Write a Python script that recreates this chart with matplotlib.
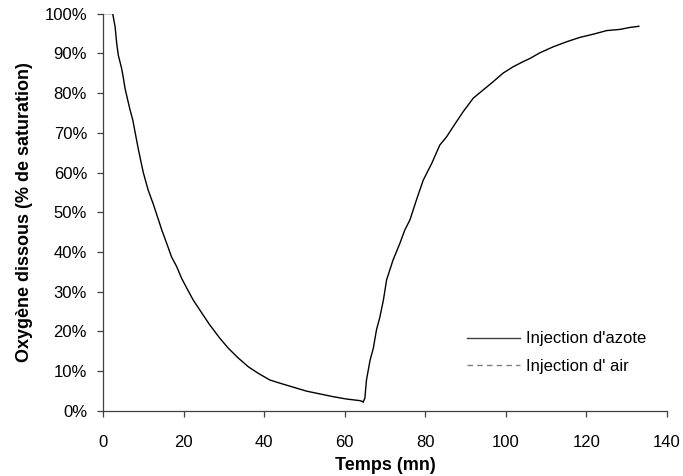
import matplotlib
matplotlib.use("Agg")
import matplotlib.pyplot as plt
from matplotlib.lines import Line2D
from matplotlib.ticker import PercentFormatter, MultipleLocator

plt.rcParams['font.family'] = ['Liberation Sans', 'DejaVu Sans']

# Injection d'azote : chute de l'oxygene dissous
t_azote = [0, 2.4, 3.0, 3.4, 3.8, 4.6, 5.0, 5.5, 6.7, 7.4, 7.9, 8.8, 10.0, 11.2,
           12.5, 13.7, 14.6, 15.8, 17.0, 18.3, 19.5, 20.8, 22.4, 24.3, 26.4,
           29.0, 31.1, 33.6, 36.1, 38.5, 41.4, 43.9, 47.2, 50.5, 53.8, 57.1,
           60.5, 63.8, 64.6]
o2_azote = [100, 100, 96.7, 92.5, 89.5, 86.3, 84.1, 81.0, 75.8, 73.2, 70.5, 65.7,
            60.0, 55.6, 52.0, 48.3, 45.5, 42.2, 38.8, 36.3, 33.4, 30.9, 27.9,
            25.0, 21.8, 18.3, 15.8, 13.3, 11.1, 9.5, 7.8, 7.0, 6.0, 5.0, 4.3,
            3.6, 3.0, 2.6, 2.3]

# Injection d'air : remontee
t_air = [64.6, 65.0, 65.4, 66.3, 67.1, 67.9, 68.7, 69.6, 70.4, 72.0, 73.7, 74.9,
         76.2, 77.8, 79.5, 81.6, 83.6, 85.3, 86.9, 89.4, 91.9, 94.4, 96.8, 99.3,
         101.8, 104.3, 106.0, 108.4, 111.7, 115.1, 118.4, 121.7, 125.0, 128.3,
         130.8, 132.4, 133.0]
o2_air = [2.3, 3.2, 7.8, 12.8, 15.8, 20.5, 23.5, 27.9, 33.0, 38.0, 42.2, 45.5,
          48.1, 53.1, 58.1, 62.3, 66.9, 69.0, 71.5, 75.3, 78.7, 80.8, 82.8, 85.0,
          86.6, 87.9, 88.7, 90.1, 91.6, 92.9, 94.0, 94.8, 95.7, 96.0, 96.5, 96.7,
          96.8]

labels = ["Injection d'azote", "Injection d' air"]

fig = plt.figure(figsize=(6.83, 4.76), dpi=100)
ax = fig.add_axes([0.1508, 0.1366, 0.8258, 0.835])

ax.plot(t_azote, o2_azote, color='black', lw=1.0)
ax.plot(t_air, o2_air, color='black', lw=1.0)

ax.set_xlim(0, 140)
ax.set_ylim(0, 100)
ax.xaxis.set_major_locator(MultipleLocator(20))
ax.yaxis.set_major_locator(MultipleLocator(10))
ax.yaxis.set_major_formatter(PercentFormatter(100, decimals=0))

for side in ['top', 'right']:
    ax.spines[side].set_visible(False)
for side in ['left', 'bottom']:
    ax.spines[side].set_color('#404040')
    ax.spines[side].set_linewidth(0.9)
ax.tick_params(direction='out', width=0.9, color='#404040', labelsize=12)
ax.tick_params(axis='x', length=4, pad=13)
ax.tick_params(axis='y', length=4.5, pad=7)

ax.set_xlabel("Temps (mn)", fontsize=13, fontweight='bold', labelpad=5)
ax.set_ylabel("Oxygène dissous (% de saturation)", fontsize=13,
              fontweight='bold', labelpad=8)

handles = [Line2D([], [], color='#404040', lw=1.0, ls='-'),
           Line2D([], [], color='#808080', lw=1.0, ls=(0, (4, 3)))]
ax.legend(handles, labels, frameon=False, fontsize=12,
          loc='upper left', bbox_to_anchor=(0.645, 0.2),
          handlelength=3.2, handletextpad=0.36, labelspacing=0.75,
          borderpad=0, borderaxespad=0)

fig.savefig("out.png", dpi=100)
